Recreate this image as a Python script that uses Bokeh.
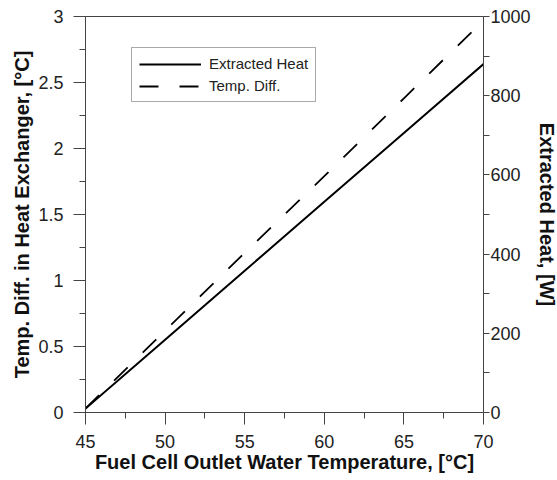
from bokeh.plotting import figure
from bokeh.models import Range1d, LinearAxis, Legend, LegendItem, FixedTicker
from bokeh.embed import file_html
from bokeh.resources import INLINE

temps = [45, 50, 55, 60, 65, 70]
extracted_heat = [10, 184, 358, 532, 706, 880]        # W (right axis)
temp_diff = [0.03, 0.62, 1.21, 1.79, 2.38, 2.97]      # deg C (left axis)

x_ticks = [45, 50, 55, 60, 65, 70]
left_ticks = [0, 0.5, 1, 1.5, 2, 2.5, 3]
right_ticks = [0, 200, 400, 600, 800, 1000]

FONT = "Liberation Sans"
AX = "#444444"

p = figure(width=557, height=480, output_backend="svg", toolbar_location=None,
           x_range=Range1d(45, 70), y_range=Range1d(0, 3),
           frame_width=398, frame_height=396,
           min_border_left=85, min_border_right=74, min_border_top=16, min_border_bottom=68)
p.extra_y_ranges = {"heat": Range1d(0, 1000)}
p.grid.visible = False
p.outline_line_color = AX
p.background_fill_color = "white"
p.border_fill_color = "white"

def style(ax, ticks, minor, tick_out, minor_out):
    ax.ticker = FixedTicker(ticks=ticks, minor_ticks=minor)
    ax.axis_line_color = AX
    ax.major_tick_line_color = AX
    ax.minor_tick_line_color = AX
    ax.major_tick_out = tick_out
    ax.major_tick_in = 0
    ax.minor_tick_out = minor_out
    ax.minor_tick_in = 0
    ax.major_label_text_font = FONT
    ax.major_label_text_font_size = "18px"
    ax.major_label_text_color = "#222222"
    ax.axis_label_text_font = FONT
    ax.axis_label_text_font_style = "bold"
    ax.axis_label_text_font_size = "20px"
    ax.axis_label_text_color = "#111111"

# bottom axis
xa = p.xaxis[0]
style(xa, x_ticks, [47.5, 52.5, 57.5, 62.5, 67.5], 12, 6)
xa.axis_label = "Fuel Cell Outlet Water Temperature, [°C]"
xa.axis_label_standoff = 0
xa.major_label_standoff = 10

# left axis
ya = p.yaxis[0]
style(ya, left_ticks, [0.25, 0.75, 1.25, 1.75, 2.25, 2.75], 12, 6)
ya.axis_label = "Temp. Diff. in Heat Exchanger, [°C]"
ya.major_label_orientation = "horizontal"
ya.axis_label_standoff = 2
ya.major_label_standoff = 10

# right axis
ra = LinearAxis(y_range_name="heat")
style(ra, right_ticks, [100, 300, 500, 700, 900], 6, 6)
ra.axis_label = "Extracted Heat, [W]"
ra.major_label_orientation = "horizontal"
ra.axis_label_orientation = "vertical"
ra.axis_label_standoff = 2
ra.major_label_standoff = 1
p.add_layout(ra, "right")

r1 = p.line(temps, extracted_heat, y_range_name="heat", line_color="black", line_width=2)
r2 = p.line(temps, temp_diff, line_color="black", line_width=1.8, line_dash="19 21")

legend = Legend(items=[LegendItem(label="Extracted Heat", renderers=[r1]),
                       LegendItem(label="Temp. Diff.", renderers=[r2])],
                location=(46, 310))
legend.label_text_font = FONT
legend.label_text_font_size = "15px"
legend.label_text_color = "#222222"
legend.glyph_width = 62
legend.glyph_height = 16
legend.label_height = 16
legend.spacing = 5
legend.padding = 7
legend.margin = 0
legend.border_line_color = "#555555"
legend.border_line_width = 1
legend.label_standoff = 8
p.add_layout(legend, "center")

open("out.html", "w").write(file_html(p, INLINE))
